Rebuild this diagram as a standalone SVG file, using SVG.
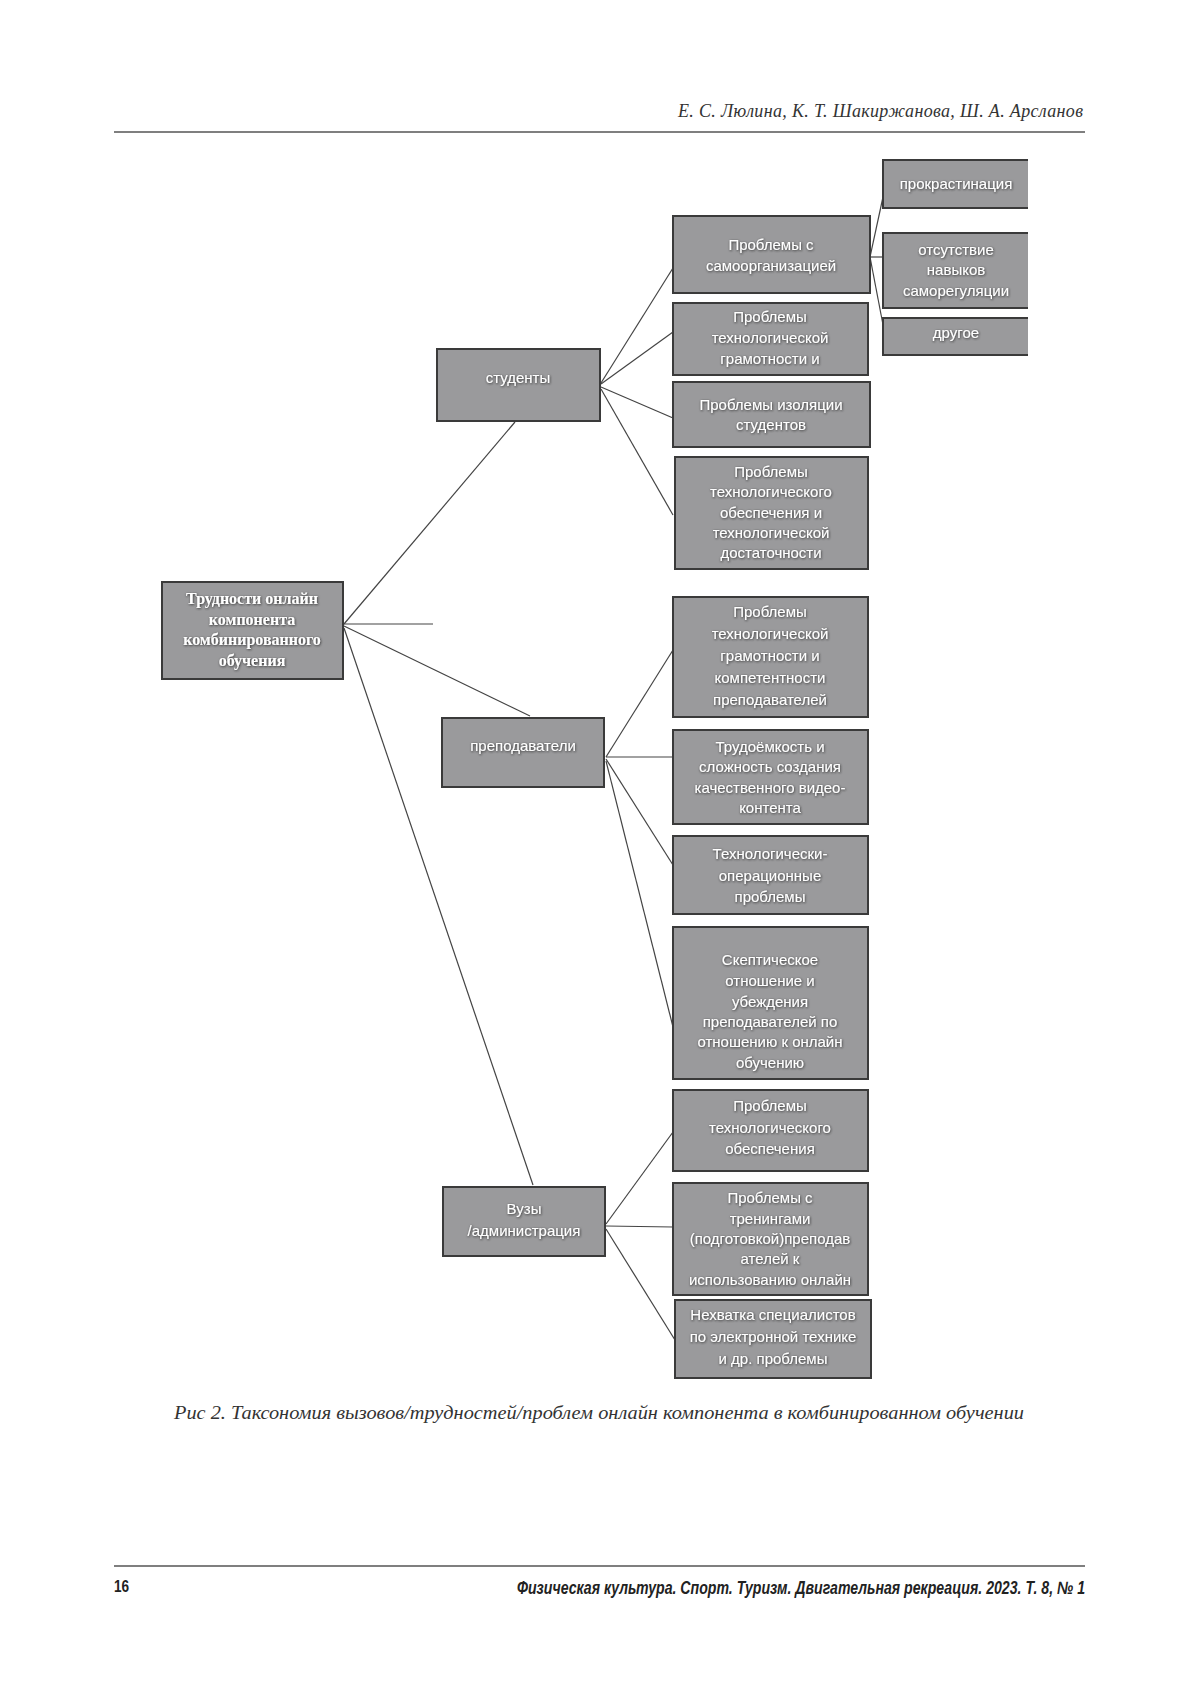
<svg xmlns="http://www.w3.org/2000/svg" width="1200" height="1697" viewBox="0 0 1200 1697">
<defs>
<filter id="sh" x="-10%" y="-30%" width="120%" height="160%">
<feDropShadow dx="0.6" dy="0.8" stdDeviation="0.8" flood-color="#222" flood-opacity="0.9"/>
</filter>
<style>
.box{fill:#9a9a9c;stroke:#3a3a3a;stroke-width:2}
.boxo{fill:#9a9a9c}
.edge{fill:none;stroke:#3a3a3a;stroke-width:2}
.t{font-family:"Liberation Sans","DejaVu Sans",sans-serif;font-size:15px;fill:#fff;text-anchor:middle;filter:url(#sh)}
.rt{font-family:"Liberation Serif","DejaVu Serif",serif;font-size:16px;font-weight:bold;fill:#fff;text-anchor:middle;filter:url(#sh)}
.c{fill:none;stroke:#444;stroke-width:1.2}
.hd{font-family:"Liberation Serif",serif;font-style:italic;font-size:18px;fill:#333}
.cap{font-family:"Liberation Serif",serif;font-style:italic;font-size:19px;fill:#333}
.ft{font-family:"Liberation Sans",sans-serif;font-weight:bold;font-style:italic;font-size:18px;fill:#222}
.pg{font-family:"Liberation Sans",sans-serif;font-weight:bold;font-size:17px;fill:#222}
.rule{stroke:#555;stroke-width:1.5}
</style>
</defs>
<rect width="1200" height="1697" fill="#fff"/>

<g id="header">
<text class="hd" x="1083" y="117" text-anchor="end" textLength="405">Е. С. Люлина, К. Т. Шакиржанова, Ш. А. Арсланов</text>
<line class="rule" x1="114" y1="132" x2="1085" y2="132"/>
</g>

<g id="connectors">
<line class="c" x1="344" y1="624" x2="515" y2="422"/>
<line class="c" x1="344" y1="624" x2="433" y2="624"/>
<line class="c" x1="344" y1="626" x2="530" y2="716"/>
<line class="c" x1="344" y1="628" x2="533" y2="1185"/>
<line class="c" x1="601" y1="383" x2="673" y2="268"/>
<line class="c" x1="601" y1="384" x2="673" y2="332"/>
<line class="c" x1="601" y1="387" x2="673" y2="418"/>
<line class="c" x1="601" y1="389" x2="673" y2="515"/>
<line class="c" x1="606" y1="757" x2="673" y2="650"/>
<line class="c" x1="606" y1="757" x2="673" y2="757"/>
<line class="c" x1="606" y1="759" x2="673" y2="865"/>
<line class="c" x1="606" y1="761" x2="673" y2="1027"/>
<line class="c" x1="606" y1="1224" x2="673" y2="1132"/>
<line class="c" x1="606" y1="1226" x2="673" y2="1227"/>
<line class="c" x1="606" y1="1229" x2="675" y2="1340"/>
<line class="c" x1="870" y1="257" x2="883" y2="197"/>
<line class="c" x1="870" y1="257" x2="883" y2="257"/>
<line class="c" x1="870" y1="257" x2="884" y2="330"/>
</g>

<g id="root">
<rect class="box" x="162" y="582" width="181" height="97"/>
<text class="rt" x="252" y="604">Трудности онлайн</text>
<text class="rt" x="252" y="625">компонента</text>
<text class="rt" x="252" y="645">комбинированного</text>
<text class="rt" x="252" y="666">обучения</text>
</g>

<g id="students">
<rect class="box" x="437" y="349" width="163" height="72"/>
<text class="t" x="518" y="383">студенты</text>
</g>

<g id="teachers">
<rect class="box" x="442" y="718" width="162" height="69"/>
<text class="t" x="523" y="751">преподаватели</text>
</g>

<g id="universities">
<rect class="box" x="443" y="1187" width="162" height="69"/>
<text class="t" x="524" y="1214">Вузы</text>
<text class="t" x="524" y="1236">/администрация</text>
</g>

<g id="s-selforg">
<rect class="box" x="673" y="216" width="197" height="77"/>
<text class="t" x="771" y="250">Проблемы с</text>
<text class="t" x="771" y="271">самоорганизацией</text>
</g>

<g id="s-literacy">
<rect class="box" x="673" y="303" width="195" height="72"/>
<text class="t" x="770" y="322">Проблемы</text>
<text class="t" x="770" y="343">технологической</text>
<text class="t" x="770" y="364">грамотности и</text>
</g>

<g id="s-isolation">
<rect class="box" x="673" y="382" width="197" height="65"/>
<text class="t" x="771" y="410">Проблемы изоляции</text>
<text class="t" x="771" y="430">студентов</text>
</g>

<g id="s-provision">
<rect class="box" x="675" y="457" width="193" height="112"/>
<text class="t" x="771" y="477">Проблемы</text>
<text class="t" x="771" y="497">технологического</text>
<text class="t" x="771" y="518">обеспечения и</text>
<text class="t" x="771" y="538">технологической</text>
<text class="t" x="771" y="558">достаточности</text>
</g>

<g id="sub-procrastination">
<rect class="boxo" x="883" y="160" width="145" height="48"/>
<path class="edge" d="M1028,160 H883 V208 H1028"/>
<text class="t" x="956" y="189">прокрастинация</text>
</g>

<g id="sub-selfreg">
<rect class="boxo" x="883" y="233" width="145" height="75"/>
<path class="edge" d="M1028,233 H883 V308 H1028"/>
<text class="t" x="956" y="255">отсутствие</text>
<text class="t" x="956" y="275">навыков</text>
<text class="t" x="956" y="296">саморегуляции</text>
</g>

<g id="sub-other">
<rect class="boxo" x="883" y="318" width="145" height="37"/>
<path class="edge" d="M1028,318 H883 V355 H1028"/>
<text class="t" x="956" y="338">другое</text>
</g>

<g id="t-literacy">
<rect class="box" x="673" y="597" width="195" height="120"/>
<text class="t" x="770" y="617">Проблемы</text>
<text class="t" x="770" y="639">технологической</text>
<text class="t" x="770" y="661">грамотности и</text>
<text class="t" x="770" y="683">компетентности</text>
<text class="t" x="770" y="705">преподавателей</text>
</g>

<g id="t-video">
<rect class="box" x="673" y="730" width="195" height="94"/>
<text class="t" x="770" y="752">Трудоёмкость и</text>
<text class="t" x="770" y="772">сложность создания</text>
<text class="t" x="770" y="793">качественного видео-</text>
<text class="t" x="770" y="813">контента</text>
</g>

<g id="t-operational">
<rect class="box" x="673" y="836" width="195" height="78"/>
<text class="t" x="770" y="859">Технологически-</text>
<text class="t" x="770" y="881">операционные</text>
<text class="t" x="770" y="902">проблемы</text>
</g>

<g id="t-skeptic">
<rect class="box" x="673" y="927" width="195" height="152"/>
<text class="t" x="770" y="965">Скептическое</text>
<text class="t" x="770" y="986">отношение и</text>
<text class="t" x="770" y="1007">убеждения</text>
<text class="t" x="770" y="1027">преподавателей по</text>
<text class="t" x="770" y="1047">отношению к онлайн</text>
<text class="t" x="770" y="1068">обучению</text>
</g>

<g id="v-provision">
<rect class="box" x="673" y="1090" width="195" height="81"/>
<text class="t" x="770" y="1111">Проблемы</text>
<text class="t" x="770" y="1133">технологического</text>
<text class="t" x="770" y="1154">обеспечения</text>
</g>

<g id="v-training">
<rect class="box" x="673" y="1183" width="195" height="112"/>
<text class="t" x="770" y="1203">Проблемы с</text>
<text class="t" x="770" y="1224">тренингами</text>
<text class="t" x="770" y="1244">(подготовкой)преподав</text>
<text class="t" x="770" y="1264">ателей  к</text>
<text class="t" x="770" y="1285">использованию онлайн</text>
</g>

<g id="v-specialists">
<rect class="box" x="675" y="1300" width="196" height="78"/>
<text class="t" x="773" y="1320">Нехватка специалистов</text>
<text class="t" x="773" y="1342">по электронной технике</text>
<text class="t" x="773" y="1364">и др. проблемы</text>
</g>

<g id="caption">
<text class="cap" x="174" y="1419" textLength="850" lengthAdjust="spacingAndGlyphs">Рис 2. Таксономия вызовов/трудностей/проблем онлайн компонента в комбинированном обучении</text>
</g>

<g id="footer">
<line class="rule" x1="114" y1="1566" x2="1085" y2="1566"/>
<text class="pg" transform="translate(114,1592) scale(0.8,1)" x="0" y="0">16</text>
<text class="ft" transform="translate(1085,1594) scale(0.785,1)" x="0" y="0" text-anchor="end">Физическая культура. Спорт. Туризм. Двигательная рекреация. 2023. Т. 8, № 1</text>
</g>
</svg>
